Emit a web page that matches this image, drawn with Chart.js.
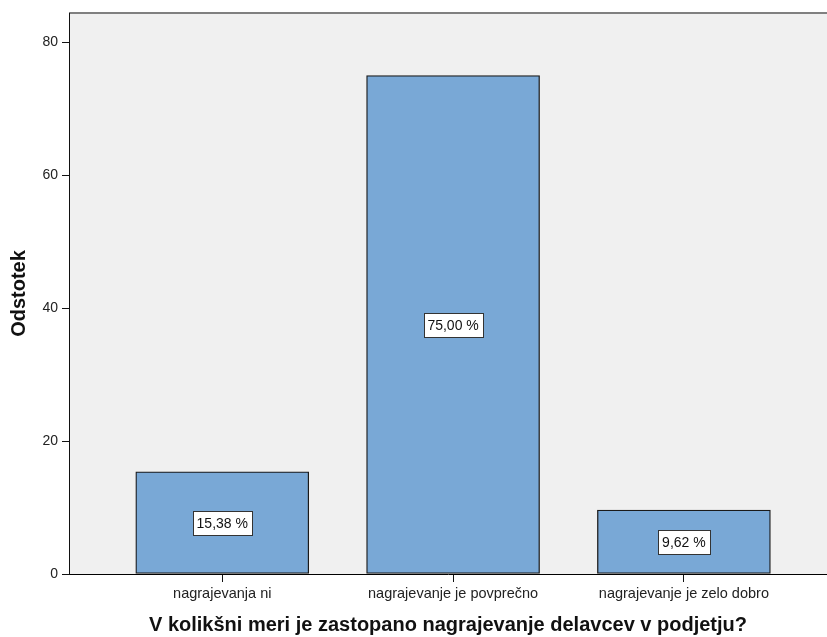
<!DOCTYPE html>
<html>
<head>
<meta charset="utf-8">
<script src="https://cdn.jsdelivr.net/npm/chart.js@4"></script>
<style>
  html, body { margin: 0; padding: 0; background: #fff; }
  #wrap { width: 827px; height: 637px; position: relative; }
</style>
</head>
<body>
<div id="wrap"><canvas id="barChart"></canvas></div>
<script>
// Podatki
const kategorije = ['nagrajevanja ni', 'nagrajevanje je povprečno', 'nagrajevanje je zelo dobro'];
const odstotki = [15.38, 75.00, 9.62];
const yOznake = [0, 20, 40, 60, 80];

const pisava = "'Liberation Sans', Arial, sans-serif";

// ozadje ploskve in zgornji rob
const ozadjePlugin = {
  id: 'ozadje',
  beforeDraw(chart) {
    const { ctx, chartArea: a } = chart;
    ctx.save();
    ctx.fillStyle = '#f0f0f0';
    ctx.fillRect(a.left, a.top, a.right - a.left, a.bottom - a.top);
    ctx.fillStyle = '#808080';
    ctx.fillRect(a.left, a.top - 1, a.right - a.left, 2);
    ctx.restore();
  }
};

// oznake vrednosti v belih okvirčkih sredi stolpcev
const oznakePlugin = {
  id: 'oznake',
  afterDatasetsDraw(chart) {
    const { ctx } = chart;
    const meta = chart.getDatasetMeta(0);
    const yScale = chart.scales.y;
    ctx.save();
    ctx.font = '14px ' + pisava;
    ctx.textAlign = 'center';
    ctx.textBaseline = 'middle';
    meta.data.forEach((bar, i) => {
      const v = odstotki[i];
      const txt = v.toFixed(2).replace('.', ',') + ' %';
      const y = yScale.getPixelForValue(v / 2);
      const w = Math.round(ctx.measureText(txt).width + 8);
      const h = 24;
      const x0 = Math.round(bar.x - w / 2) + 0.5;
      const y0 = Math.round(y - h / 2) + 0.5;
      ctx.fillStyle = '#ffffff';
      ctx.fillRect(x0, y0, w, h);
      ctx.strokeStyle = '#333333';
      ctx.lineWidth = 1;
      ctx.strokeRect(x0, y0, w, h);
      ctx.fillStyle = '#111111';
      ctx.fillText(txt, bar.x, y + 1);
    });
    ctx.restore();
  }
};

const ctx = document.getElementById('barChart').getContext('2d');
new Chart(ctx, {
  type: 'bar',
  data: {
    datasets: [{
      data: odstotki.map((v, i) => ({ x: i + 1, y: v })),
      backgroundColor: '#79a8d6',
      borderColor: '#1a1a1a',
      borderWidth: 1.3,
      borderSkipped: false,
      barThickness: 173
    }]
  },
  options: {
    responsive: true,
    maintainAspectRatio: false,
    animation: false,
    layout: { padding: { top: 13, right: 0, left: 0, bottom: 0 } },
    plugins: {
      legend: { display: false },
      tooltip: { enabled: false }
    },
    scales: {
      x: {
        type: 'linear',
        offset: false,
        min: 0.336,
        max: 3.62,
        afterBuildTicks(scale) {
          scale.ticks = kategorije.map((_, i) => ({ value: i + 1 }));
        },
        afterFit(scale) { scale.height = 63; },
        grid: { display: true, offset: false, drawOnChartArea: false, drawTicks: true, tickLength: 8, color: '#111' },
        border: { display: true, color: '#000', width: 1 },
        ticks: {
          autoSkip: false,
          maxRotation: 0,
          padding: 3,
          color: '#222',
          font: { family: pisava, size: 14.5 },
          callback: (v) => kategorije[v - 1] || ''
        },
        title: {
          display: true,
          text: 'V kolikšni meri je zastopano nagrajevanje delavcev v podjetju?',
          color: '#111',
          font: { family: pisava, size: 20, weight: 'bold' },
          padding: { top: 5, bottom: 0 }
        }
      },
      y: {
        min: 0,
        max: 84.4,
        afterBuildTicks(scale) {
          scale.ticks = yOznake.map(v => ({ value: v }));
        },
        afterFit(scale) { scale.width = 69; },
        grid: { display: true, drawOnChartArea: false, drawTicks: true, tickLength: 7, color: '#111' },
        border: { display: true, color: '#111', width: 1 },
        ticks: {
          padding: 4,
          color: '#222',
          font: { family: pisava, size: 14 }
        },
        title: {
          display: true,
          text: 'Odstotek',
          color: '#111',
          font: { family: pisava, size: 20, weight: 'bold' },
          padding: { top: 7, bottom: 4 }
        }
      }
    }
  },
  plugins: [ozadjePlugin, oznakePlugin]
});
</script>
</body>
</html>
